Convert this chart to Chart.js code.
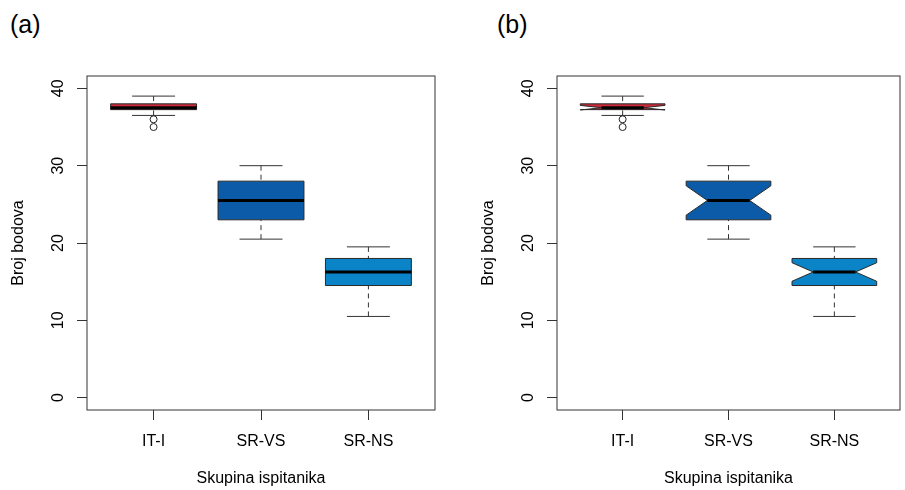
<!DOCTYPE html>
<html>
<head>
<meta charset="utf-8">
<script src="https://cdn.jsdelivr.net/npm/chart.js"></script>
<style>
  body { margin: 0; background: #fff; width: 905px; height: 490px; overflow: hidden; position: relative;
         font-family: "Liberation Sans", Arial, sans-serif; }
  .panel { position: absolute; top: 0; height: 490px; }
  .tag { position: absolute; top: 12px; font-size: 25px; line-height: 25px; color: #000; }
</style>
</head>
<body>
<div class="tag" style="left:10px">(a)</div>
<div class="tag" style="left:497px">(b)</div>
<div class="panel" style="left:0;width:452px"><canvas id="chartA"></canvas></div>
<div class="panel" style="left:470px;width:435px"><canvas id="chartB"></canvas></div>
<script>
// groups and five-number summaries
const groups = ['IT-I', 'SR-VS', 'SR-NS'];
const groupPos = [1, 2, 3];
const whiskerLow = [36.5, 20.5, 10.5];
const q1 = [37.25, 23, 14.5];
const median = [37.5, 25.5, 16.25];
const q3 = [38, 28, 18];
const whiskerHigh = [39, 30, 19.5];
// notch limits (panel b)
const notchLow = [37.2, 23.6, 15.05];
const notchHigh = [37.8, 27.4, 17.45];
// outliers
const outlierGroup = [1, 1];
const outlierValue = [36, 35];
const yTicks = [0, 10, 20, 30, 40];
const boxColors = ['#cc2a3a', '#0b5ba8', '#0a84c6'];

const boxHalf = 0.4; // boxwex 0.8

Chart.defaults.font.family = '"Liberation Sans", Arial, sans-serif';
Chart.defaults.font.size = 16;
Chart.defaults.color = '#000';

function seg(ctx, x1, y1, x2, y2) {
  ctx.beginPath();
  ctx.moveTo(x1, y1);
  ctx.lineTo(x2, y2);
  ctx.stroke();
}

// draws boxes, whiskers and medians through the chart's own scales
function drawBoxes(chart, notched) {
  const { ctx, scales: { x, y } } = chart;
  ctx.save();
  groups.forEach((g, i) => {
    const cx = x.getPixelForValue(groupPos[i]);
    const half = x.getPixelForValue(groupPos[i] + boxHalf) - cx;
    const cap = half / 2;
    const inner = half / 2;
    const yLo = y.getPixelForValue(whiskerLow[i]);
    const yQ1 = y.getPixelForValue(q1[i]);
    const yMed = y.getPixelForValue(median[i]);
    const yQ3 = y.getPixelForValue(q3[i]);
    const yHi = y.getPixelForValue(whiskerHigh[i]);

    ctx.strokeStyle = '#333';
    ctx.lineWidth = 1;
    ctx.setLineDash([5, 4]);
    seg(ctx, cx, yHi, cx, yQ3);
    seg(ctx, cx, yLo, cx, yQ1);
    ctx.setLineDash([]);
    seg(ctx, cx - cap, yHi, cx + cap, yHi);
    seg(ctx, cx - cap, yLo, cx + cap, yLo);

    ctx.beginPath();
    if (notched) {
      const nLo = y.getPixelForValue(notchLow[i]);
      const nHi = y.getPixelForValue(notchHigh[i]);
      ctx.moveTo(cx - half, yQ1);
      ctx.lineTo(cx - half, nLo);
      ctx.lineTo(cx - inner, yMed);
      ctx.lineTo(cx - half, nHi);
      ctx.lineTo(cx - half, yQ3);
      ctx.lineTo(cx + half, yQ3);
      ctx.lineTo(cx + half, nHi);
      ctx.lineTo(cx + inner, yMed);
      ctx.lineTo(cx + half, nLo);
      ctx.lineTo(cx + half, yQ1);
      ctx.closePath();
    } else {
      ctx.rect(cx - half, yQ3, 2 * half, yQ1 - yQ3);
    }
    ctx.fillStyle = boxColors[i];
    ctx.fill();
    ctx.strokeStyle = '#2a2a2a';
    ctx.lineWidth = 1;
    ctx.stroke();

    const mh = notched ? inner : half;
    ctx.strokeStyle = '#000';
    ctx.lineWidth = 3;
    seg(ctx, cx - mh, yMed, cx + mh, yMed);
  });
  ctx.restore();
}

const framePlugin = {
  id: 'frame',
  afterDraw(chart) {
    const { ctx, chartArea: a } = chart;
    ctx.save();
    ctx.strokeStyle = '#333';
    ctx.lineWidth = 1;
    ctx.strokeRect(a.left, a.top, a.right - a.left, a.bottom - a.top);
    ctx.restore();
  }
};

function makeChart(id, notched, rightPad) {
  const gridOpts = { display: true, drawOnChartArea: false, drawTicks: true, tickLength: 10, color: '#333', lineWidth: 1 };
  return new Chart(document.getElementById(id), {
    type: 'scatter',
    data: {
      datasets: [{
        data: outlierValue.map((v, i) => ({ x: outlierGroup[i], y: v })),
        pointStyle: 'circle',
        pointRadius: 3.5,
        pointBorderWidth: 1,
        pointBorderColor: '#222',
        pointBackgroundColor: 'rgba(255,255,255,0)'
      }]
    },
    options: {
      responsive: true,
      maintainAspectRatio: false,
      animation: false,
      layout: { padding: { top: 76, right: rightPad, bottom: 0, left: 0 } },
      plugins: { legend: { display: false }, tooltip: { enabled: false } },
      scales: {
        x: {
          type: 'linear', min: 0.38, max: 3.62,
          afterBuildTicks: s => { s.ticks = groupPos.map(v => ({ value: v })); },
          afterFit: s => { s.height = 80; },
          grid: gridOpts,
          border: { display: false },
          ticks: { callback: (v, i) => groups[i], padding: 12, maxRotation: 0, autoSkip: false },
          title: { display: true, text: 'Skupina ispitanika', padding: { top: 0, bottom: 1.4 } }
        },
        y: {
          type: 'linear', min: -1.6, max: 41.6,
          afterBuildTicks: s => { s.ticks = yTicks.map(v => ({ value: v })); },
          afterFit: s => { s.width = 87; },
          grid: gridOpts,
          border: { display: false },
          ticks: { minRotation: 90, maxRotation: 90, crossAlign: 'center', padding: 10 },
          title: { display: true, text: 'Broj bodova', padding: { top: 9.4, bottom: 0 } }
        }
      }
    },
    plugins: [framePlugin, { id: 'boxes', beforeDatasetsDraw(chart) { drawBoxes(chart, notched); } }]
  });
}

makeChart('chartA', false, 17);
makeChart('chartB', true, 1);
</script>
</body>
</html>
